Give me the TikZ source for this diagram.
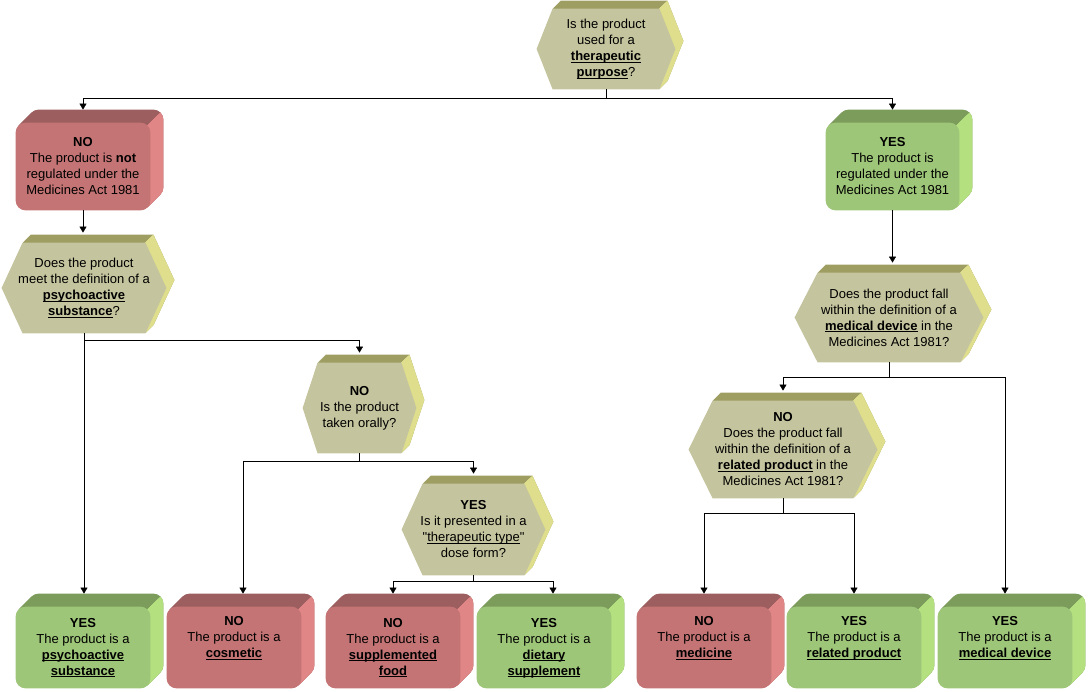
\documentclass[tikz,border=0pt]{standalone}
\usepackage{fontspec}
\setmainfont{Liberation Sans}[Ligatures=TeXOff]
\usetikzlibrary{arrows.meta}
\pgfdeclarelayer{background}
\pgfsetlayers{background,main}
\definecolor{hexfr}{RGB}{196,196,158}
\definecolor{hextp}{RGB}{158,158,98}
\definecolor{hexsd}{RGB}{222,222,140}
\definecolor{redfr}{RGB}{196,116,116}
\definecolor{redtp}{RGB}{156,94,94}
\definecolor{redsd}{RGB}{224,134,134}
\definecolor{grnfr}{RGB}{158,198,120}
\definecolor{grntp}{RGB}{124,156,92}
\definecolor{grnsd}{RGB}{180,224,128}
\newcommand{\keyword}[1]{\underline{\smash{\textbf{#1}}}}

\begin{document}
\begin{tikzpicture}[x=1pt, y=-1pt, thick,
    every node/.style={align=center, inner sep=0pt, font=\fontsize{13}{16}\selectfont},
    sz/.style 2 args={minimum width=#1pt, minimum height=#2pt},
    hexpath/.style={insert path={(#1.west) -- ([xshift=\cut pt]#1.north west) -- ([xshift=-\cut pt]#1.north east)
        -- (#1.east) -- ([xshift=-\cut pt]#1.south east) -- ([xshift=\cut pt]#1.south west) -- cycle}},
    arr/.style={-{Triangle[length=6pt,width=7pt]}},
    tobox/.style={arr, shorten >=13pt},
    tohex/.style={arr, shorten >=10pt}]
    \useasboundingbox (0,0) rectangle (1090,692);

    % questions
    \node[sz={138}{80}] (q1) at (606,49) {Is the product\\used for a\\\keyword{therapeutic}\\\keyword{purpose}?};
    \node[sz={164}{90}] (q2) at (84,288) {Does the product\\meet the definition of a\\\keyword{psychoactive}\\\keyword{substance}?};
    \node[sz={113}{90}] (q3) at (359.5,408) {\textbf{NO}\\Is the product\\taken orally?};
    \node[sz={143}{91}] (q4) at (473.5,529.5) {\textbf{YES}\\Is it presented in a\\"\underline{\smash{therapeutic type}}"\\dose form?};
    \node[sz={188}{89}] (q5) at (889,317.5) {Does the product fall\\within the definition of a\\\keyword{medical device} in the\\Medicines Act 1981?};
    \node[sz={188}{97}] (q6) at (783,449.5) {\textbf{NO}\\Does the product fall\\within the definition of a\\\keyword{related product} in the\\Medicines Act 1981?};

    % answers
    \node[sz={134}{87}] (no1) at (83,166.5) {\textbf{NO}\\The product is \textbf{not}\\regulated under the\\Medicines Act 1981};
    \node[sz={133}{87}] (yes1) at (892.5,166.5) {\textbf{YES}\\The product is\\regulated under the\\Medicines Act 1981};
    \node[sz={134}{81}] (b1) at (83,647.5) {\textbf{YES}\\The product is a\\\keyword{psychoactive}\\\keyword{substance}};
    \node[sz={134}{81}] (b2) at (234,647.5) {\textbf{NO}\\The product is a\\\keyword{cosmetic}\\\strut};
    \node[sz={134}{81}] (b3) at (393,647.5) {\textbf{NO}\\The product is a\\\keyword{supplemented}\\\keyword{food}};
    \node[sz={134}{81}] (b4) at (544,647.5) {\textbf{YES}\\The product is a\\\keyword{dietary}\\\keyword{supplement}};
    \node[sz={134}{81}] (b5) at (704,647.5) {\textbf{NO}\\The product is a\\\keyword{medicine}\\\strut};
    \node[sz={134}{81}] (b6) at (854,647.5) {\textbf{YES}\\The product is a\\\keyword{related product}\\\strut};
    \node[sz={134}{81}] (b7) at (1005,647.5) {\textbf{YES}\\The product is a\\\keyword{medical device}\\\strut};

    \begin{pgfonlayer}{background}
        \foreach \n/\col in {no1/red,yes1/grn,b1/grn,b2/red,b3/red,b4/grn,b5/red,b6/grn,b7/grn} {
            \foreach \k in {1,...,13}
                \fill[\col tp, rounded corners=10pt, transform canvas={shift={(\k,-\k)}}] (\n.north west) rectangle (\n.south east);
            \begin{scope}
                \clip ([shift={(30,-30)}]\n.north east) -- ([shift={(-150,150)}]\n.north east)
                    -- ([shift={(150,150)}]\n.north east) -- ([shift={(150,-30)}]\n.north east) -- cycle;
                \foreach \k in {1,...,13}
                    \fill[\col sd, rounded corners=10pt, transform canvas={shift={(\k,-\k)}}] (\n.north west) rectangle (\n.south east);
            \end{scope}
            \fill[\col fr, rounded corners=10pt] (\n.north west) rectangle (\n.south east);
        }
        \foreach \n/\cut in {q1/16,q2/21,q3/15,q4/21,q5/23,q6/24} {
            \foreach \k in {1,...,8}
                \fill[hextp, transform canvas={shift={(\k,-\k)}}] [hexpath=\n];
            \begin{scope}
                \clip ([shift={(30-\cut,-30)}]\n.north east) -- ([shift={(-150-\cut,150)}]\n.north east)
                    -- ([shift={(150,150)}]\n.north east) -- ([shift={(150,-30)}]\n.north east) -- cycle;
                \foreach \k in {1,...,8}
                    \fill[hexsd, transform canvas={shift={(\k,-\k)}}] [hexpath=\n];
            \end{scope}
            \fill[hexfr] [hexpath=\n];
        }
    \end{pgfonlayer}

    \draw[tobox] (q1.south) -- ++(0,9) -| (no1.north);
    \draw[tobox] (q1.south) ++(0,9) -| (yes1.north);
    \draw[tohex] (no1.south) -- (no1.south |- q2.north);
    \draw[tobox] (q2.south) -- (q2.south |- b1.north);
    \draw[tohex] (q2.south) ++(0,7) -| (q3.north);
    \draw[tobox] (q3.south) -- ++(0,8) -| ([xshift=9pt]b2.north);
    \draw[tohex] (q3.south) ++(0,8) -| (q4.north);
    \draw[tobox] (q4.south) -- ++(0,6) -| (b3.north);
    \draw[tobox] (q4.south) ++(0,6) -| ([xshift=9pt]b4.north);
    \draw[tohex] (yes1.south) -- (yes1.south |- q5.north);
    \draw[tohex] (q5.south) -- ++(0,15) -| (q6.north);
    \draw[tobox] (q5.south) ++(0,15) -| (b7.north);
    \draw[tobox] (q6.south) -- ++(0,15) -| (b5.north);
    \draw[tobox] (q6.south) ++(0,15) -| (b6.north);
\end{tikzpicture}
\end{document}
